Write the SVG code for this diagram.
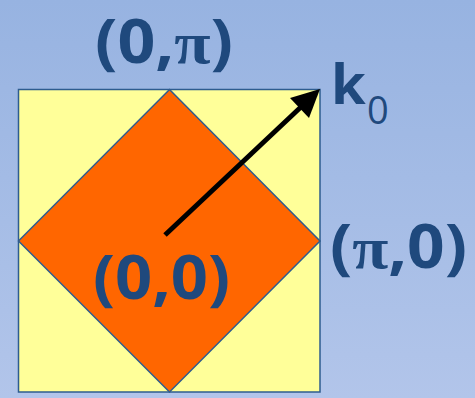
<svg xmlns="http://www.w3.org/2000/svg" width="475" height="398" viewBox="0 0 475 398">
  <defs>
    <linearGradient id="bg" x1="0" y1="0" x2="0" y2="1">
      <stop offset="0" stop-color="#97b3e1"/>
      <stop offset="1" stop-color="#b2c5ea"/>
    </linearGradient>
  </defs>
  <style>
    .lbl { font-family: "Open Sans", "Liberation Sans", sans-serif; font-weight: bold; fill: #1f497d; }
    .pi { font-family: "Liberation Serif", "DejaVu Serif", serif; font-weight: bold; }
    .sub { font-weight: normal; }
    .shape { stroke: #2e5c8f; stroke-width: 1.5; stroke-linejoin: miter; }
  </style>
  <rect x="0" y="0" width="475" height="398" fill="url(#bg)"/>
  <g id="square">
    <rect class="shape" x="18.5" y="89.5" width="301.5" height="302.5" fill="#ffff99"/>
  </g>
  <g id="diamond">
    <polygon class="shape" points="169.5,89.5 320,241 169.5,392 18.5,241" fill="#ff6600"/>
  </g>
  <g id="connectors">
    <line x1="165" y1="235" x2="302" y2="106" stroke="#000" stroke-width="5"/>
    <polygon points="320,89 290,98 309,118" fill="#000"/>
  </g>
  <g id="label-0pi">
    <text class="lbl" x="95" y="63" font-size="60" textLength="138" lengthAdjust="spacingAndGlyphs">(0,<tspan class="pi">π</tspan>)</text>
  </g>
  <g id="label-00">
    <text class="lbl" x="93" y="299" font-size="60" textLength="137" lengthAdjust="spacingAndGlyphs">(0,0)</text>
  </g>
  <g id="label-pi0">
    <text class="lbl" x="330" y="268" font-size="60" textLength="137" lengthAdjust="spacingAndGlyphs">(<tspan class="pi">π</tspan>,0)</text>
  </g>
  <g id="label-k0">
    <text class="lbl" x="331" y="104" font-size="56">k<tspan class="sub" x="367" y="124" font-size="38">0</tspan></text>
  </g>
</svg>
